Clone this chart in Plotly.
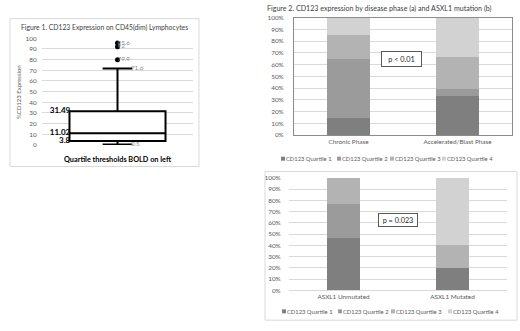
import plotly.graph_objects as go

W, H = 520, 331


def fx(x):
    return x / W


def fy(y):
    return 1 - y / H


# ---------------- Figure 1 data ----------------
box_q1 = [3.8]
box_median = [11.02]
box_q3 = [31.49]
box_lowerfence = [0.5]
box_upperfence = [71.6]
outlier_values = [95.6, 92, 79.9]
outlier_labels = ["95.6", "92", "79.9"]
fence_values = [71.6, 0.5]
fence_labels = ["71.6", "0.5"]
quartile_values = [31.49, 11.02, 3.8]
quartile_labels = ["31.49", "11.02", "3.8"]

# ---------------- Figure 2a data ----------------
phase_categories = ["Chronic Phase", "Accelerated/Blast Phase"]
phase_q1 = [0.15, 0.333]
phase_q2 = [0.50, 0.056]
phase_q3 = [0.20, 0.278]
phase_q4 = [0.15, 0.333]

# ---------------- Figure 2b data ----------------
asxl1_categories = ["ASXL1 Unmutated", "ASXL1 Mutated"]
asxl1_q1 = [0.462, 0.20]
asxl1_q2 = [0.308, 0.0]
asxl1_q3 = [0.230, 0.20]
asxl1_q4 = [0.0, 0.60]

quartile_names = ["CD123 Quartile 1", "CD123 Quartile 2", "CD123 Quartile 3", "CD123 Quartile 4"]
quartile_colors = ["#7f7f7f", "#9b9b9b", "#b3b3b3", "#d2d2d2"]

FONT = "Lato"
GRAY = "#595959"
GRID = "#d9d9d9"

fig = go.Figure()

# ---------- Figure 1: box plot ----------
box_width = 0.636
fig.add_trace(go.Box(
    x0=0, q1=box_q1, median=box_median, q3=box_q3,
    lowerfence=box_lowerfence, upperfence=box_upperfence,
    width=box_width, whiskerwidth=0.31,
    line=dict(color="black", width=2), fillcolor="white",
    boxpoints=False, showlegend=False, hoverinfo="skip",
    xaxis="x", yaxis="y",
))
fig.add_trace(go.Scatter(
    x=[0] * len(outlier_values), y=outlier_values,
    mode="markers", marker=dict(color="black", size=5),
    showlegend=False, hoverinfo="skip", xaxis="x", yaxis="y", cliponaxis=False,
))
fig.add_trace(go.Scatter(
    x=[0.0] * len(outlier_values), y=outlier_values, text=outlier_labels,
    mode="text", textposition="middle right", marker=dict(size=1),
    textfont=dict(family=FONT, size=6.3, color="#8c8c8c"),
    showlegend=False, hoverinfo="skip", xaxis="x", yaxis="y", cliponaxis=False,
))
fig.add_trace(go.Scatter(
    x=[box_width * 0.31 / 2 - 0.01] * len(fence_values), y=fence_values, text=fence_labels,
    mode="text", textposition="middle right", marker=dict(size=1),
    textfont=dict(family=FONT, size=6.3, color="#8c8c8c"),
    showlegend=False, hoverinfo="skip", xaxis="x", yaxis="y", cliponaxis=False,
))
fig.add_trace(go.Scatter(
    x=[-box_width / 2 + 0.005] * len(quartile_values), y=quartile_values,
    text=["<b>%s</b>" % t for t in quartile_labels],
    mode="text", textposition="middle left", marker=dict(size=1),
    textfont=dict(family=FONT, size=8, color="black"),
    showlegend=False, hoverinfo="skip", xaxis="x", yaxis="y", cliponaxis=False,
))

# ---------- Figure 2a: stacked bars ----------
for name, vals, col in zip(quartile_names, [phase_q1, phase_q2, phase_q3, phase_q4], quartile_colors):
    fig.add_trace(go.Bar(
        x=phase_categories, y=vals, name=name, marker=dict(color=col, line=dict(width=0)),
        width=0.39, showlegend=False, hoverinfo="skip", xaxis="x2", yaxis="y2",
    ))

# ---------- Figure 2b: stacked bars ----------
for name, vals, col in zip(quartile_names, [asxl1_q1, asxl1_q2, asxl1_q3, asxl1_q4], quartile_colors):
    fig.add_trace(go.Bar(
        x=asxl1_categories, y=vals, name=name, marker=dict(color=col, line=dict(width=0)),
        width=0.31, showlegend=False, hoverinfo="skip", xaxis="x3", yaxis="y3",
    ))

# ---------- Manual compact legends (overlay pixel axes) ----------
legend_rows = [
    ([283, 339, 392, 444], 158),
    ([284, 340, 393, 450], 314),
]
legend_annotations = []
for xs, yrow in legend_rows:
    fig.add_trace(go.Scatter(
        x=xs, y=[yrow] * 4, mode="markers",
        marker=dict(symbol="square", size=4, color=quartile_colors),
        showlegend=False, hoverinfo="skip", xaxis="x4", yaxis="y4", cliponaxis=False,
    ))
    for xv, nm in zip(xs, quartile_names):
        legend_annotations.append(dict(
            text=nm, x=fx(xv + 2), y=fy(yrow), xref="paper", yref="paper",
            xanchor="left", yanchor="middle", showarrow=False, borderpad=0,
            font=dict(family=FONT, size=5.8, color=GRAY)))

tickfont = dict(family=FONT, size=6.4, color=GRAY)
hidden_tick = dict(ticks="outside", tickcolor="rgba(0,0,0,0)")

fig.update_layout(
    width=W, height=H, autosize=False,
    margin=dict(l=0, r=0, t=0, b=0),
    paper_bgcolor="white", plot_bgcolor="rgba(0,0,0,0)",
    barmode="stack",
    font=dict(family=FONT, color=GRAY),
    xaxis=dict(domain=[fx(42), fx(193)], range=[-0.5, 0.5], showgrid=False,
               zeroline=False, showticklabels=False, ticks=""),
    yaxis=dict(domain=[fy(144), fy(35)], range=[0, 100], dtick=10,
               showgrid=True, gridcolor=GRID, gridwidth=1, zeroline=False,
               tickfont=tickfont, ticklen=3, **hidden_tick),
    xaxis2=dict(domain=[fx(294), fx(512)], anchor="y2", type="category",
                tickfont=dict(family=FONT, size=6.4, color=GRAY),
                showline=True, mirror=True, linecolor="#8c8c8c", linewidth=1,
                ticks="", showgrid=False),
    yaxis2=dict(domain=[fy(134), fy(14)], anchor="x2", range=[0, 1], dtick=0.1,
                tickformat=".0%", tickfont=tickfont, ticklen=8, **hidden_tick,
                showgrid=True, gridcolor=GRID, zeroline=False,
                showline=True, mirror=True, linecolor="#8c8c8c", linewidth=1),
    xaxis3=dict(domain=[fx(289), fx(507)], anchor="y3", type="category",
                tickfont=dict(family=FONT, size=6.4, color=GRAY),
                showline=True, linecolor=GRID, ticks="", showgrid=False),
    yaxis3=dict(domain=[fy(292.5), fy(177.5)], anchor="x3", range=[0, 1], dtick=0.1,
                tickformat=".0%", tickfont=tickfont, ticklen=6, **hidden_tick,
                showgrid=True, gridcolor=GRID, zeroline=False),
    xaxis4=dict(domain=[0, 1], range=[0, W], visible=False, anchor="y4"),
    yaxis4=dict(domain=[0, 1], range=[H, 0], visible=False, anchor="x4"),
    shapes=[
        dict(type="rect", xref="paper", yref="paper", x0=fx(10), x1=fx(199),
             y0=fy(166), y1=fy(15), line=dict(color=GRID, width=1)),
        dict(type="rect", xref="paper", yref="paper", x0=fx(265), x1=fx(517),
             y0=fy(323), y1=fy(171), line=dict(color=GRID, width=1)),
    ],
    annotations=[
        dict(text="Figure 1. CD123 Expression on CD45(dim) Lymphocytes",
             x=fx(104), y=fy(24), xref="paper", yref="paper", showarrow=False,
             xanchor="center", yanchor="middle",
             font=dict(family=FONT, size=6.8, color="#404040")),
        dict(text="%CD123 Expression", textangle=-90,
             x=fx(18), y=fy(90), xref="paper", yref="paper", showarrow=False,
             xanchor="center", yanchor="middle",
             font=dict(family=FONT, size=6, color=GRAY)),
        dict(text="<b>Quartile thresholds BOLD on left</b>",
             x=fx(117.5), y=fy(159), xref="paper", yref="paper", showarrow=False,
             xanchor="center", yanchor="middle",
             font=dict(family=FONT, size=7.3, color="black")),
        dict(text="Figure 2. CD123 expression by disease phase (a) and ASXL1 mutation (b)",
             x=fx(265), y=fy(5), xref="paper", yref="paper", showarrow=False,
             xanchor="left", yanchor="middle",
             font=dict(family=FONT, size=7.1, color="#404040")),
        dict(text="p < 0.01", x=fx(401.5), y=fy(56), xref="paper", yref="paper",
             xanchor="center", yanchor="middle",
             showarrow=False, width=37, height=12, borderpad=1, borderwidth=1,
             bordercolor="#595959", bgcolor="white",
             font=dict(family=FONT, size=7.3, color="#262626")),
        dict(text="p = 0.023", x=fx(398), y=fy(220.5), xref="paper", yref="paper",
             xanchor="center", yanchor="middle",
             showarrow=False, width=36, height=10, borderpad=1, borderwidth=1,
             bordercolor="#595959", bgcolor="white",
             font=dict(family=FONT, size=7.3, color="#262626")),
    ] + legend_annotations,
)

fig.write_html("out.html", config={"displayModeBar": False},
               post_script="document.body.style.margin='0';")
